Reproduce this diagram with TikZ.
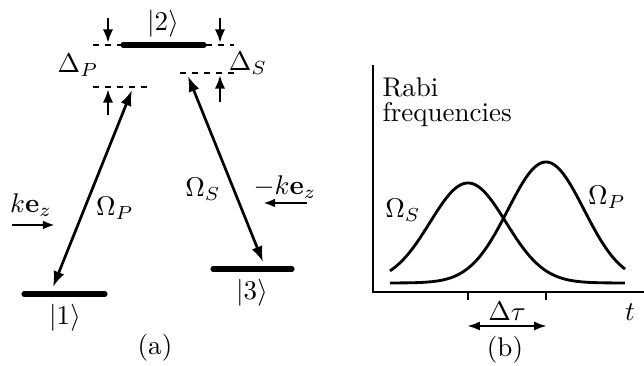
\documentclass[tikz,border=0pt]{standalone}
\usepackage{amsmath}
\usetikzlibrary{arrows.meta}
\begin{document}
\begin{tikzpicture}[x=0.37pt,y=-0.37pt,
  level/.style={line width=1.9pt,line cap=round},
  dashline/.style={line width=0.4pt,dash pattern=on 2.2pt off 2.2pt},
  trans/.style={line width=1pt,{Latex[length=5.8pt,width=4.2pt]}-{Latex[length=5.8pt,width=4.2pt]}},
  small/.style={line width=1pt,-{Latex[length=5pt,width=3.8pt]}},
  beam/.style={line width=1pt,-{Latex[length=4.5pt,width=3.3pt]}},
  axis/.style={line width=0.6pt},
  curve/.style={line width=1.05pt}]
\useasboundingbox (0,0) rectangle (644,366);
% ---- (a) levels
\coordinate (l2a) at (123,45); \coordinate (l2b) at (204,45);
\coordinate (l1a) at (24,294); \coordinate (l1b) at (105,294);
\coordinate (l3a) at (213,269); \coordinate (l3b) at (292,269);
\draw[level] (l2a) -- (l2b);
\draw[level] (l1a) -- (l1b);
\draw[level] (l3a) -- (l3b);
\node (k2) at (163,24) {$|2\rangle$};
\node (k1) at (65,318) {$|1\rangle$};
\node (k3) at (252,293) {$|3\rangle$};
% dashed detuning lines
\coordinate (d1a) at (93,45); \coordinate (d1b) at (121,45);
\coordinate (d2a) at (206,45); \coordinate (d2b) at (234,45);
\coordinate (d3a) at (93,87); \coordinate (d3b) at (148,87);
\coordinate (d4a) at (180,73); \coordinate (d4b) at (234,73);
\draw[dashline] (d1a) -- (d1b);
\draw[dashline] (d2a) -- (d2b);
\draw[dashline] (d3a) -- (d3b);
\draw[dashline] (d4a) -- (d4b);
% small detuning arrows
\coordinate (s1a) at (108,18); \coordinate (s1b) at (108,43);
\coordinate (s2a) at (220,18); \coordinate (s2b) at (220,43);
\coordinate (s3a) at (108,115); \coordinate (s3b) at (108,89);
\coordinate (s4a) at (220,102); \coordinate (s4b) at (220,75);
\draw[small] (s1a) -- (s1b);
\draw[small] (s2a) -- (s2b);
\draw[small] (s3a) -- (s3b);
\draw[small] (s4a) -- (s4b);
\node (dP) at (78,65) {$\Delta_P$};
\node (dS) at (248,63) {$\Delta_S$};
% transitions
\coordinate (pA) at (53,287); \coordinate (pB) at (132,90);
\coordinate (sA) at (188,76); \coordinate (sB) at (263,262);
\draw[trans] (pA) -- (pB);
\draw[trans] (sA) -- (sB);
\node (OP) at (115,208) {$\Omega_P$};
\node (OS) at (203,189) {$\Omega_S$};
% beams
\coordinate (b1a) at (12,225); \coordinate (b1b) at (55,225);
\coordinate (b2a) at (307,203); \coordinate (b2b) at (263,203);
\draw[beam] (b1a) -- (b1b);
\draw[beam] (b2a) -- (b2b);
\node (kz) at (31,205) {$k\mathbf{e}_z$};
\node (mkz) at (285,187) {$-k\mathbf{e}_z$};
\node (la) at (155,348) {(a)};
% ---- (b) pulses
\coordinate (O) at (373,292); \coordinate (Y) at (373,65); \coordinate (X) at (644,292);
\draw[axis] (Y) -- (O) -- (X);
\coordinate (t1) at (468,292); \coordinate (t1e) at (468,300);
\coordinate (t2) at (546,292); \coordinate (t2e) at (546,300);
\draw[axis] (t1) -- (t1e);
\draw[axis] (t2) -- (t2e);
\node[anchor=base west] (rabi) at (373,97) {Rabi};
\node[anchor=base west] (freq) at (373,122) {frequencies};
\draw[curve] plot[domain=390:625,samples=120,smooth] (\x,{283-100*exp(-0.5*((\x-468)/38)^2)});
\draw[curve] plot[domain=390:625,samples=120,smooth] (\x,{283-121*exp(-0.5*((\x-546)/38)^2)});
\node (lS) at (403,210) {$\Omega_S$};
\node (lP) at (607,197) {$\Omega_P$};
\coordinate (dtA) at (467,326); \coordinate (dtB) at (547,326);
\draw[line width=0.9pt,{Latex[length=4.8pt,width=3.4pt]}-{Latex[length=4.8pt,width=3.4pt]}] (dtA) -- (dtB);
\node (dt) at (507,311) {$\Delta\tau$};
\node (tl) at (630,312) {$t$};
\node (lb) at (505,350) {(b)};
\end{tikzpicture}
\end{document}
